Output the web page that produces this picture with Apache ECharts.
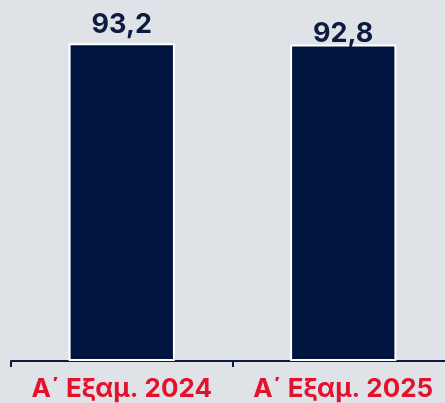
<!DOCTYPE html>
<html>
<head>
<meta charset="utf-8">
<style>
  html, body { margin: 0; padding: 0; background: #dfe3e8; }
  #chart { width: 445px; height: 403px; }
</style>
<script src="https://cdn.jsdelivr.net/npm/echarts@6/dist/echarts.min.js"></script>
</head>
<body>
<div id="chart"></div>
<script>
// categories and values
const categories = ['Α΄ Εξαμ. 2024', 'Α΄ Εξαμ. 2025'];
const values = [93.2, 92.8];
const labelGaps = [5, -3];

const chart = echarts.init(document.getElementById('chart'));

chart.setOption({
  backgroundColor: '#dfe3e8',
  animation: false,
  grid: { left: 11, right: -9, top: 20, bottom: 42, outerBoundsMode: 'none', containLabel: false },
  xAxis: {
    type: 'category',
    data: categories,
    axisLine: { lineStyle: { color: '#0b1a3f', width: 2 } },
    axisTick: { show: true, interval: 0, length: 6, lineStyle: { color: '#0b1a3f', width: 2 } },
    axisLabel: {
      interval: 0,
      hideOverlap: false,
      color: '#e4112d',
      fontFamily: 'Inter',
      fontWeight: 'bold',
      fontSize: 26,
      margin: 15
    }
  },
  yAxis: {
    type: 'value',
    min: 0,
    max: 100,
    show: false,
    splitLine: { show: false }
  },
  series: [{
    type: 'bar',
    barWidth: '48%',
    data: values.map((v, i) => ({
      value: v,
      label: { distance: labelGaps[i] }
    })),
    itemStyle: { color: '#001440', borderColor: '#ffffff', borderWidth: 2 },
    label: {
      show: true,
      position: 'top',
      color: '#0d1b40',
      fontFamily: 'Inter',
      fontWeight: 'bold',
      fontSize: 27,
      formatter: p => String(p.value).replace('.', ',')
    }
  }]
});
</script>
</body>
</html>
